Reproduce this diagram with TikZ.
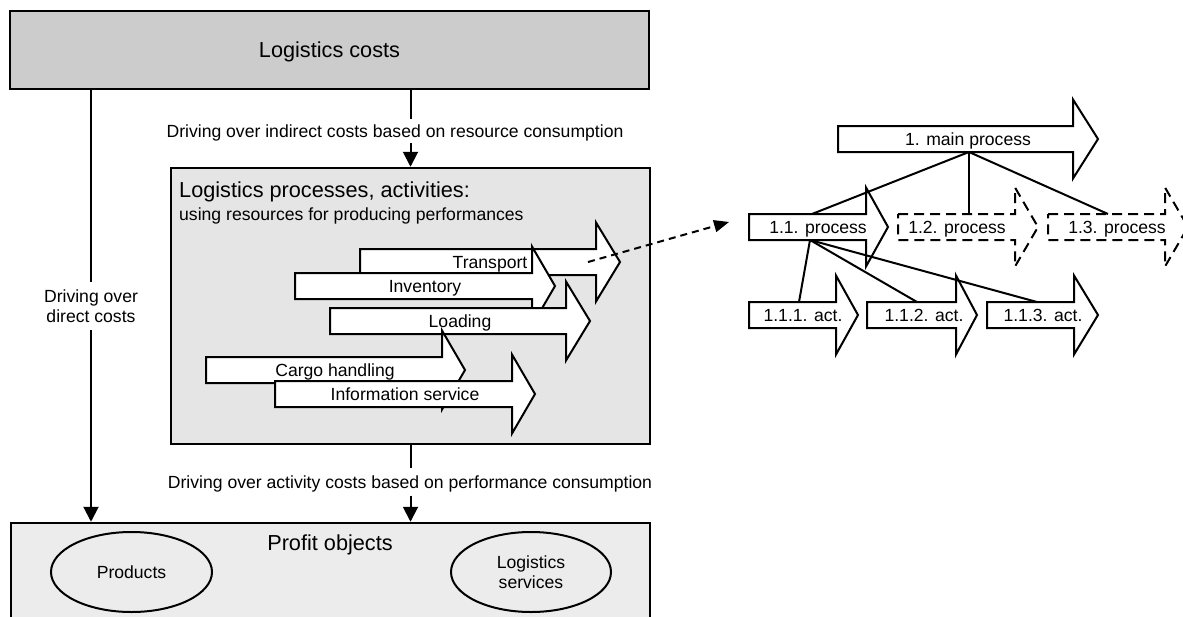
\documentclass[tikz,border=0pt]{standalone}
\usepackage{fontspec}
\setmainfont{Liberation Sans}
\usetikzlibrary{arrows.meta,shapes.geometric}
\definecolor{gTop}{RGB}{204,204,204}
\definecolor{gMid}{RGB}{229,229,229}
\definecolor{gBot}{RGB}{236,236,236}
\newcommand\fsn{\fontsize{17.6}{20}\selectfont}
\newcommand\fsl{\fontsize{21.7}{25}\selectfont}
% #1 options, #2 left x, #3 head base x, #4 tip x, #5 centre y
\newcommand\flowarrow[5][]{%
  \filldraw[arrowshape,#1] (#2,#5-13) -- (#3,#5-13) -- (#3,#5-39.5) -- (#4,#5)
    -- (#3,#5+39.5) -- (#3,#5+13) -- (#2,#5+13) -- cycle;}
\tikzset{
  box/.style={draw, line width=2.5pt, inner sep=0pt},
  arrowshape/.style={draw, fill=white, line width=2pt, line join=miter},
  dashedshape/.style={dash pattern=on 10pt off 6pt},
  conn/.style={line width=2pt},
  arr/.style={conn, -{Triangle[length=15pt,width=15pt]}},
  dasharr/.style={line width=2pt, dash pattern=on 7pt off 5pt, -{Triangle[length=15pt,width=12pt]}},
  lbl/.style={font=\fsn, inner sep=0pt, text height=12.6pt, text depth=0pt},
  lbig/.style={font=\fsl, inner sep=0pt, text height=15.5pt, text depth=0pt},
  twoline/.style={font=\fsn, inner sep=0pt, align=center},
}
\begin{document}
\begin{tikzpicture}[x=1pt,y=-1pt]
\useasboundingbox (0,0) rectangle (1183,616);

% ---------- main boxes
\node[box, fill=gTop, minimum width=639pt, minimum height=78pt, lbig] (costs) at (329.5,50) {Logistics costs};
\node[box, fill=gMid, minimum width=479pt, minimum height=276pt] (proc) at (410.5,306) {};
\node[box, fill=gBot, minimum width=639pt, minimum height=110pt] (profit) at (330.5,578) {};

% ---------- connector labels and connectors
\node[lbl, minimum height=24pt] (ind) at (395,131) {Driving over indirect costs based on resource consumption};
\draw[conn] (costs.south -| proc.north) -- (ind.north -| proc.north);
\draw[arr] (ind.south -| proc.north) -- (proc.north);

\node[lbl, minimum height=27pt] (actc) at (410,482) {Driving over activity costs based on performance consumption};
\draw[conn] (proc.south) -- (actc.north -| proc.south);
\draw[arr] (actc.south -| proc.south) -- (proc.south |- profit.north);

\node[twoline, minimum height=47pt] (dir) at (91,306) {Driving over\\direct costs};
\draw[conn] (costs.south -| dir.north) -- (dir.north);
\draw[arr] (dir.south) -- (dir.south |- profit.north);

% ---------- process box content
\node[font=\fsl, inner sep=0pt, anchor=base west] (ptitle) at (179,197) {Logistics processes, activities:};
\node[font=\fsn, inner sep=0pt, anchor=base west] (psub) at (179,220) {using resources for producing performances};

\flowarrow{360}{596}{620}{262}
\node[lbl] (transport) at (490,262) {Transport};
\flowarrow{295}{532}{555}{286}
\node[lbl] (inventory) at (425,286) {Inventory};
\flowarrow{330}{566}{590}{321}
\node[lbl] (loading) at (460,321) {Loading};
\flowarrow{206}{442}{465}{370}
\node[lbl] (cargo) at (335,370) {Cargo handling};
\flowarrow{275}{512}{535}{394}
\node[lbl] (info) at (405,394) {Information service};

% ---------- profit objects
\node[lbig] (pobj) at (330,543) {Profit objects};
\node[ellipse, draw, line width=2pt, lbl, minimum width=161pt, minimum height=80pt] (prod) at (131.5,572) {Products};
\node[ellipse, draw, line width=2pt, twoline, minimum width=160pt, minimum height=80pt] (lserv) at (531,572) {Logistics\\services};

% ---------- process hierarchy (right)
\flowarrow{838}{1073}{1098}{139}
\node[lbl] (mainp) at (968,139) {1. main process};
\flowarrow{749}{866}{888}{227}
\node[lbl] (p11) at (818,227) {1.1. process};
\flowarrow[dashedshape]{898}{1015}{1038}{227}
\node[lbl] (p12) at (957,227) {1.2. process};
\flowarrow[dashedshape]{1048}{1165}{1188}{227}
\node[lbl] (p13) at (1117,227) {1.3. process};
\flowarrow{749}{836}{858}{315}
\node[lbl] (a1) at (803,315) {1.1.1. act.};
\flowarrow{867}{956}{977}{315}
\node[lbl] (a2) at (924,315) {1.1.2. act.};
\flowarrow{987}{1074}{1098}{315}
\node[lbl] (a3) at (1043,315) {1.1.3. act.};

\coordinate (mainB) at (969,152);
\coordinate (p11T) at (812,214);
\coordinate (p12T) at (969,214);
\coordinate (p13T) at (1108,214);
\coordinate (p11B) at (810,240);
\coordinate (a1T) at (799,302);
\coordinate (a2T) at (917,302);
\coordinate (a3T) at (1037,302);
\draw[conn] (mainB) -- (p11T);
\draw[conn] (mainB) -- (p12T);
\draw[conn] (mainB) -- (p13T);
\draw[conn] (p11B) -- (a1T);
\draw[conn] (p11B) -- (a2T);
\draw[conn] (p11B) -- (a3T);

% ---------- dashed link
\coordinate (tstart) at (588,262);
\coordinate (tend) at (729,222);
\draw[dasharr] (tstart) -- (tend);
\end{tikzpicture}
\end{document}
